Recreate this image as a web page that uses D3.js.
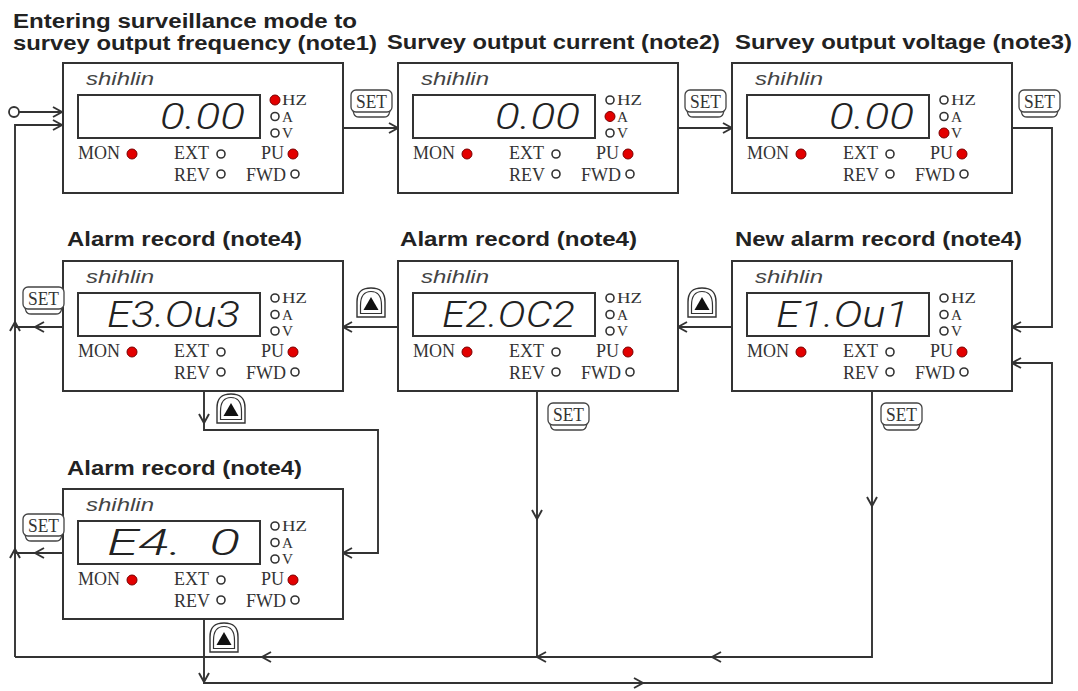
<!DOCTYPE html>
<html lang="en">
<head>
<meta charset="UTF-8" />
<title>Monitor mode flow</title>
<script src="https://cdn.jsdelivr.net/npm/d3@7"></script>
<style>
  html, body { margin: 0; padding: 0; background: #fff; }
  svg { display: block; }
  .title { font-family: "Liberation Sans", Arial, sans-serif; font-weight: bold; font-size: 20px; fill: #222; }
  .brand { font-family: "Liberation Sans", Arial, sans-serif; font-style: italic; font-size: 19px; fill: #444; }
  .lcd { font-family: Roboto, "Liberation Sans", sans-serif; font-weight: 300; font-style: italic; font-size: 37px; fill: #222; white-space: pre; }
  .lbl { font-family: "Liberation Serif", "Times New Roman", serif; font-size: 18px; fill: #333; }
  .unit { font-family: "Liberation Serif", "Times New Roman", serif; font-size: 14px; fill: #333; }
  .key { font-family: "Liberation Serif", "Times New Roman", serif; font-size: 19px; fill: #333; }
  .wire { fill: none; stroke: #333; stroke-width: 1.9; }
</style>
</head>
<body>
<div id="chart"></div>
<script>
// panels, in the order the SET / UP keys walk through them
const panelTitles = [
  ["Entering surveillance mode to", "survey output frequency (note1)"],
  ["Survey output current (note2)"],
  ["Survey output voltage (note3)"],
  ["New alarm record (note4)"],
  ["Alarm record (note4)"],
  ["Alarm record (note4)"],
  ["Alarm record (note4)"]
];
const panelReadouts = ["0.00", "0.00", "0.00", "E1.Ou1", "E2.OC2", "E3.Ou3", "E4.  0"];
const panelUnits = ["HZ", "A", "V", null, null, null, null];
const panelCols = [0, 1, 2, 2, 1, 0, 0];
const panelRows = [0, 0, 0, 1, 1, 1, 2];
const unitLabels = ["HZ", "A", "V"];

// ---- layout ----
const W = 1078, H = 691;
const BOX_W = 280, BOX_H = 130;
const colX = d3.scaleOrdinal().domain([0, 1, 2]).range([63, 398, 732]);
const rowY = d3.scaleOrdinal().domain([0, 1, 2]).range([63, 261, 489]);

// title placement: [x, baseline, width] per line
const titlePos = [
  [[13, 28, 344], [13, 50, 364]],
  [[387, 49, 333]],
  [[735, 49, 337]],
  [[735, 246, 287]],
  [[400, 246, 237]],
  [[67, 246, 235]],
  [[67, 475, 235]]
];

const wires = [
  [[19, 112], [62, 112]],
  [[15, 657], [15, 125], [62, 125]],
  [[343, 128], [398, 128]],
  [[678, 128], [732, 128]],
  [[1012, 128], [1052, 128], [1052, 327], [1012, 327]],
  [[732, 327], [678, 327]],
  [[398, 327], [343, 327]],
  [[63, 327], [15, 327]],
  [[204, 391], [204, 430], [378, 430], [378, 553], [343, 553]],
  [[63, 553], [15, 553]],
  [[204, 619], [204, 683], [1052, 683], [1052, 363], [1012, 363]],
  [[537, 391], [537, 657]],
  [[872, 391], [872, 657], [15, 657]]
];

const arrows = [
  [62, 112, "r"], [62, 125, "r"], [398, 128, "r"], [732, 128, "r"],
  [1012, 327, "l"], [678, 327, "l"], [343, 327, "l"], [35, 327, "l"], [15, 322, "u"],
  [204, 423, "d"], [343, 553, "l"], [35, 553, "l"], [15, 549, "u"],
  [204, 682, "d"], [643, 683, "r"], [1012, 363, "l"],
  [537, 519, "d"], [872, 506, "d"],
  [712, 657, "l"], [537, 657, "l"], [262, 657, "l"]
];

const setKeys = [[351, 90], [685, 90], [1019, 90], [23, 287], [23, 514], [548, 403], [881, 403]];
const upKeys = [[702, 288], [371, 288], [231, 394], [224, 623]];

const svg = d3.select("#chart").append("svg").attr("width", W).attr("height", H);

// wires
svg.append("g").selectAll("path").data(wires).join("path")
  .attr("class", "wire").attr("d", d3.line());

// start terminal
svg.append("circle").attr("cx", 14).attr("cy", 112).attr("r", 5)
  .attr("fill", "#fff").attr("stroke", "#333").attr("stroke-width", 1.8);

// chevron arrow heads
function chevron(d) {
  const [x, y, dir] = d, L = 9, S = 5;
  if (dir === "r") return `M${x - L},${y - S}L${x},${y}L${x - L},${y + S}`;
  if (dir === "l") return `M${x + L},${y - S}L${x},${y}L${x + L},${y + S}`;
  if (dir === "d") return `M${x - S},${y - L}L${x},${y}L${x + S},${y - L}`;
  return `M${x - S},${y + L}L${x},${y}L${x + S},${y + L}`;
}
svg.append("g").selectAll("path").data(arrows).join("path")
  .attr("class", "wire").attr("d", chevron);

// titles
panelTitles.forEach((lines, i) => {
  lines.forEach((t, k) => {
    const [x, y, w] = titlePos[i][k];
    svg.append("text").attr("class", "title").attr("x", x).attr("y", y)
      .attr("textLength", w).attr("lengthAdjust", "spacingAndGlyphs").text(t);
  });
});

function led(g, cx, cy, on) {
  g.append("circle").attr("cx", cx).attr("cy", cy).attr("r", on ? 5 : 4)
    .attr("fill", on ? "#e30000" : "#fff")
    .attr("stroke", on ? "#7a0000" : "#333").attr("stroke-width", on ? 1 : 1.6);
}

// panels
panelReadouts.forEach((val, i) => {
  const bx = colX(panelCols[i]), by = rowY(panelRows[i]);
  const p = svg.append("g").attr("transform", `translate(${bx},${by})`);
  p.append("rect").attr("width", BOX_W).attr("height", BOX_H)
    .attr("fill", "#fff").attr("stroke", "#333").attr("stroke-width", 2);
  p.append("text").attr("class", "brand").attr("x", 23).attr("y", 22)
    .attr("textLength", 68).attr("lengthAdjust", "spacingAndGlyphs").text("shihlin");
  p.append("rect").attr("x", 15).attr("y", 32).attr("width", 182).attr("height", 43)
    .attr("fill", "none").attr("stroke", "#333").attr("stroke-width", 2);
  const isNum = val.startsWith("0");
  p.append("text").attr("class", "lcd")
    .attr("x", isNum ? 97 : 44).attr("y", 66)
    .attr("textLength", isNum ? 85 : 133).attr("lengthAdjust", "spacingAndGlyphs")
    .text(val);

  unitLabels.forEach((u, k) => {
    led(p, 212, 37 + k * 16.5, u === panelUnits[i]);
    p.append("text").attr("class", "unit").attr("x", 219).attr("y", 42 + k * 16.5)
      .attr("textLength", u === "HZ" ? 25 : 11).attr("lengthAdjust", "spacingAndGlyphs").text(u);
  });

  p.append("text").attr("class", "lbl").attr("x", 15).attr("y", 96).text("MON");
  led(p, 69, 91, true);
  p.append("text").attr("class", "lbl").attr("x", 111).attr("y", 96).text("EXT");
  led(p, 158, 91, false);
  p.append("text").attr("class", "lbl").attr("x", 198).attr("y", 96).text("PU");
  led(p, 230, 91, true);
  p.append("text").attr("class", "lbl").attr("x", 111).attr("y", 118).text("REV");
  led(p, 158, 111, false);
  p.append("text").attr("class", "lbl").attr("x", 183).attr("y", 118).text("FWD");
  led(p, 232, 111, false);
});

// SET keys
setKeys.forEach(([x, y]) => {
  const w = 41, h = 27;
  const k = svg.append("g").attr("transform", `translate(${x},${y})`);
  k.append("path")
    .attr("d", `M1,${h - 10}L3,${h - 3}Q4,${h} 8,${h}L${w - 8},${h}Q${w - 4},${h} ${w - 3},${h - 3}L${w - 1},${h - 10}`)
    .attr("fill", "#fff").attr("stroke", "#444").attr("stroke-width", 1.3);
  k.append("rect").attr("width", w).attr("height", h - 5).attr("rx", 5)
    .attr("fill", "#fff").attr("stroke", "#444").attr("stroke-width", 1.3);
  k.append("text").attr("class", "key").attr("x", w / 2).attr("y", h - 9)
    .attr("text-anchor", "middle").attr("textLength", 31).attr("lengthAdjust", "spacingAndGlyphs")
    .text("SET");
});

// UP keys
upKeys.forEach(([cx, y]) => {
  const k = svg.append("g").attr("transform", `translate(${cx},${y})`);
  const arch = (r, top, bot) => `M${-r},${bot}L${-r},${top + 14}C${-r},${top + 2} ${-r / 2},${top} 0,${top}C${r / 2},${top} ${r},${top + 2} ${r},${top + 14}L${r},${bot}Z`;
  k.append("path").attr("d", arch(14, 0, 29))
    .attr("fill", "#fff").attr("stroke", "#333").attr("stroke-width", 1.4);
  k.append("path").attr("d", arch(10.5, 3.5, 25.5))
    .attr("fill", "none").attr("stroke", "#333").attr("stroke-width", 1.2);
  k.append("path").attr("d", "M0,9L7.5,22L-7.5,22Z").attr("fill", "#111");
});
</script>
</body>
</html>
